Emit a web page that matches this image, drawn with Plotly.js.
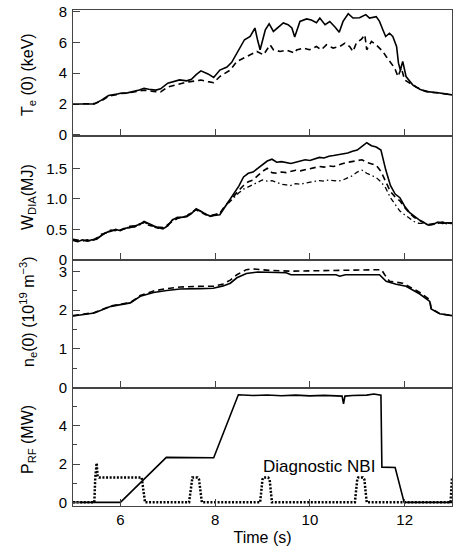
<!DOCTYPE html>
<html><head><meta charset="utf-8">
<script src="https://cdn.plot.ly/plotly-3.0.1.min.js"></script>
<style>html,body{margin:0;padding:0;background:#fff}#chart{width:455px;height:546px}</style>
</head><body><div id="chart"></div>
<script>
// Panel 1: central electron temperature Te(0) (keV)
const tTeSolid = [5.0,5.2,5.45,5.6,5.75,5.9,6.0,6.15,6.3,6.4,6.5,6.6,6.75,6.85,7.0,7.1,7.25,7.4,7.5,7.6,7.7,7.85,7.97,8.1,8.25,8.35,8.46,8.55,8.62,8.74,8.84,8.9,8.95,9.06,9.14,9.23,9.35,9.44,9.54,9.62,9.68,9.79,9.93,10.03,10.14,10.21,10.32,10.42,10.53,10.62,10.7,10.81,10.91,11.05,11.18,11.26,11.4,11.47,11.54,11.6,11.68,11.75,11.83,11.87,11.91,11.96,12.03,12.17,12.32,12.46,12.67,12.88,13.0];
const teSolid = [2.0,2.02,2.0,2.25,2.55,2.62,2.7,2.72,2.8,2.9,3.02,2.95,2.9,2.98,3.35,3.45,3.56,3.5,3.6,3.9,4.15,3.95,3.72,4.2,4.4,4.7,5.3,5.8,6.17,6.38,6.93,6.1,5.52,6.82,7.21,6.71,7.0,7.26,7.15,6.93,6.35,7.36,7.52,7.45,7.28,7.58,7.15,7.35,7.0,6.65,7.36,7.86,7.58,7.6,7.8,7.58,7.67,7.36,6.82,6.38,6.59,6.38,5.73,4.65,4.2,4.76,3.78,3.24,2.96,2.8,2.74,2.63,2.59];
const tTeDash = [5.0,5.2,5.45,5.6,5.75,5.9,6.0,6.15,6.3,6.5,6.7,6.85,7.0,7.25,7.4,7.6,7.7,7.85,7.97,8.1,8.32,8.46,8.6,8.74,8.88,9.02,9.16,9.23,9.37,9.51,9.68,9.72,9.86,9.99,10.14,10.24,10.35,10.49,10.63,10.74,10.84,10.91,10.98,11.09,11.16,11.2,11.3,11.4,11.54,11.61,11.72,11.79,11.86,11.93,12.0,12.1,12.25,12.39,12.55,12.75,12.9,13.0];
const teDash = [2.0,2.0,2.02,2.2,2.5,2.6,2.68,2.7,2.78,2.9,2.82,2.78,3.1,3.3,3.42,3.5,3.55,3.45,3.38,3.78,4.2,4.76,4.98,5.19,5.41,5.19,5.84,5.52,5.41,5.5,5.3,5.5,5.63,5.52,5.73,5.52,5.84,5.63,5.73,5.95,5.73,5.41,5.95,6.21,6.49,5.52,6.06,5.84,5.41,5.08,4.65,4.33,3.78,4.33,3.56,3.35,3.09,2.89,2.76,2.7,2.63,2.6];

// Panel 2: diamagnetic stored energy W_DIA (MJ)
const tW = [5.0,5.1,5.2,5.3,5.4,5.5,5.6,5.7,5.8,5.9,6.0,6.1,6.2,6.3,6.4,6.5,6.6,6.7,6.8,6.9,7.0,7.1,7.2,7.3,7.4,7.5,7.6,7.7,7.8,7.9,8.0,8.1,8.2,8.3,8.4,8.5,8.6,8.7,8.8,8.9,9.0,9.1,9.2,9.3,9.4,9.5,9.6,9.7,9.8,9.9,10.0,10.1,10.2,10.3,10.4,10.5,10.6,10.7,10.8,10.9,11.0,11.1,11.2,11.3,11.4,11.5,11.6,11.7,11.8,11.9,12.0,12.1,12.2,12.3,12.4,12.5,12.6,12.7,12.8,12.9,13.0];
const wSolid = [0.32,0.30,0.33,0.31,0.33,0.34,0.40,0.45,0.47,0.50,0.48,0.52,0.53,0.55,0.58,0.63,0.59,0.56,0.53,0.51,0.56,0.66,0.69,0.70,0.71,0.76,0.84,0.80,0.75,0.72,0.73,0.74,0.86,0.98,1.10,1.21,1.36,1.42,1.44,1.50,1.55,1.62,1.65,1.60,1.61,1.59,1.58,1.60,1.62,1.64,1.63,1.66,1.68,1.67,1.70,1.71,1.72,1.73,1.75,1.78,1.80,1.86,1.92,1.87,1.85,1.80,1.48,1.22,1.08,1.02,0.88,0.78,0.72,0.66,0.62,0.57,0.58,0.62,0.60,0.61,0.60];
const wDash = [0.34,0.32,0.31,0.33,0.32,0.36,0.42,0.44,0.49,0.48,0.50,0.51,0.55,0.56,0.59,0.61,0.57,0.55,0.54,0.53,0.58,0.64,0.68,0.71,0.72,0.78,0.82,0.78,0.74,0.73,0.75,0.76,0.88,0.96,1.05,1.14,1.22,1.28,1.31,1.38,1.45,1.50,1.43,1.42,1.44,1.43,1.45,1.47,1.46,1.48,1.50,1.52,1.53,1.52,1.54,1.53,1.56,1.58,1.60,1.61,1.63,1.64,1.60,1.58,1.55,1.45,1.28,1.12,1.03,0.97,0.86,0.77,0.70,0.65,0.61,0.58,0.59,0.61,0.62,0.60,0.61];
const wDashDot = [0.33,0.31,0.32,0.32,0.31,0.35,0.41,0.46,0.48,0.49,0.49,0.53,0.54,0.54,0.57,0.62,0.58,0.54,0.52,0.52,0.57,0.65,0.70,0.69,0.72,0.77,0.83,0.79,0.76,0.71,0.74,0.77,0.87,0.95,1.03,1.10,1.16,1.20,1.24,1.28,1.31,1.29,1.30,1.27,1.24,1.23,1.22,1.25,1.24,1.26,1.27,1.29,1.30,1.29,1.31,1.30,1.29,1.31,1.34,1.38,1.44,1.47,1.42,1.39,1.35,1.28,1.18,1.02,0.90,0.80,0.74,0.68,0.63,0.60,0.60,0.57,0.59,0.60,0.61,0.59,0.60];

// Panel 3: central electron density ne(0) (10^19 m^-3)
const tNeSolid = [5.0,5.45,5.8,6.07,6.21,6.42,6.7,6.98,7.26,7.68,7.96,8.17,8.32,8.46,8.66,8.9,9.16,9.5,9.6,10.2,10.55,10.63,10.75,11.47,11.53,11.61,11.82,12.03,12.32,12.53,12.56,12.74,13.0];
const neSolid = [1.85,1.93,2.1,2.15,2.19,2.36,2.46,2.51,2.55,2.56,2.57,2.63,2.7,2.84,2.95,2.99,2.98,2.97,2.92,2.92,2.92,2.88,2.92,2.92,2.84,2.75,2.67,2.62,2.42,2.23,2.03,1.91,1.86];
const tNeDash = [5.0,5.45,5.8,6.07,6.21,6.42,6.7,6.98,7.26,7.68,7.96,8.17,8.32,8.46,8.66,8.8,9.16,9.6,10.5,11.0,11.51,11.58,11.68,11.96,12.32,12.53,12.56,12.74,13.0];
const neDash = [1.86,1.94,2.11,2.16,2.2,2.38,2.5,2.56,2.6,2.62,2.62,2.68,2.78,2.92,3.05,3.07,3.03,3.01,3.02,3.04,3.05,2.92,2.75,2.7,2.46,2.27,2.05,1.91,1.86];

// Panel 4: RF power P_RF (MW) and diagnostic NBI (dotted)
const tRF = [5.0,6.0,6.97,7.5,7.97,8.49,8.8,9.1,9.4,9.7,10.0,10.3,10.6,10.68,10.71,10.74,10.9,11.2,11.35,11.47,11.5,11.52,11.65,11.8,11.99,13.0];
const pRF = [0,0,2.35,2.36,2.33,5.62,5.58,5.61,5.57,5.60,5.56,5.59,5.57,5.55,5.15,5.55,5.58,5.60,5.66,5.60,5.60,1.84,1.82,1.82,0,0];
const tNBI = [5.0,5.45,5.47,5.5,5.52,5.55,6.45,6.52,7.45,7.5,7.52,7.63,7.66,7.72,8.95,9.0,9.02,9.12,9.15,9.2,10.95,11.0,11.02,11.12,11.15,11.2,12.97,13.0];
const pNBI = [0,0,1.3,2.05,1.35,1.3,1.3,0,0,1.2,1.3,1.3,1.2,0,0,1.2,1.3,1.3,1.2,0,0,1.2,1.3,1.3,1.2,0,0,1.3];

const xTicks = [6,8,10,12];
const panelTitles = ['T<sub>e</sub> (0) (keV)','W<sub>DIA</sub>(MJ)','n<sub>e</sub>(0) (10<sup>19</sup> m<sup>−3</sup>)','P<sub>RF</sub> (MW)'];
const xTitle = 'Time (s)';
const nbiLabel = 'Diagnostic NBI';

const F = 'Liberation Sans, Arial, Helvetica, sans-serif';
const lw = 1.6;
const traces = [
  {x:tTeSolid, y:teSolid, xaxis:'x', yaxis:'y', mode:'lines', line:{color:'#000', width:lw}},
  {x:tTeDash, y:teDash, xaxis:'x', yaxis:'y', mode:'lines', line:{color:'#000', width:lw, dash:'6px,4px'}},
  {x:tW, y:wSolid, xaxis:'x2', yaxis:'y2', mode:'lines', line:{color:'#000', width:lw}},
  {x:tW, y:wDash, xaxis:'x2', yaxis:'y2', mode:'lines', line:{color:'#000', width:lw, dash:'6px,4px'}},
  {x:tW, y:wDashDot, xaxis:'x2', yaxis:'y2', mode:'lines', line:{color:'#000', width:1.3, dash:'5px,3px,1.5px,3px'}},
  {x:tNeSolid, y:neSolid, xaxis:'x3', yaxis:'y3', mode:'lines', line:{color:'#000', width:lw}},
  {x:tNeDash, y:neDash, xaxis:'x3', yaxis:'y3', mode:'lines', line:{color:'#000', width:lw, dash:'6px,4px'}},
  {x:tRF, y:pRF, xaxis:'x4', yaxis:'y4', mode:'lines', line:{color:'#000', width:lw}},
  {x:tNBI, y:pNBI, xaxis:'x4', yaxis:'y4', mode:'lines', line:{color:'#000', width:2.5, dash:'2px,1.6px'}}
];

const H = 496;
const py = p => (506 - p) / H; // page y -> paper y
const doms = [[py(136),1],[py(260),py(136)],[py(387.5),py(260)],[0,py(387.5)]];

function xax(i, show){
  return {domain:[0,1], anchor:'y'+(i===1?'':i), range:[5,13], tickvals:xTicks, ticks:'inside', ticklen:7, tickwidth:1,
    showticklabels:show, showline:true, mirror:true, linewidth:1, linecolor:'#444', showgrid:false, zeroline:false,
    tickfont:{family:F, size:15, color:'#000'},
    title: show ? {text:xTitle, font:{family:F, size:16, color:'#000'}, standoff:4} : undefined};
}
function yax(i, range, tv, tt, minor){
  const a = {domain:doms[i-1], anchor:'x'+(i===1?'':i), range:range, tickvals:tv, ticktext:tt, ticks:'inside', ticklen:7, tickwidth:1,
    showline:true, mirror:true, linewidth:1, linecolor:'#444', showgrid:false, zeroline:false,
    tickfont:{family:F, size:15, color:'#000'}, ticklabelstandoff:2};
  if (minor) a.minor = {tickvals:minor, ticks:'inside', ticklen:4, tickwidth:1, tickcolor:'#444', showgrid:false};
  return a;
}
const titleY = [75, 197, 312, 440];
const annotations = panelTitles.map((t,i)=>({text:t, xref:'paper', yref:'paper', x:(28-73)/379, y:py(titleY[i]),
  xanchor:'center', yanchor:'middle', textangle:-90, showarrow:false, font:{family:F, size:16, color:'#000'}}));
annotations.push({text:nbiLabel, xref:'x4', yref:'y4', x:10.2, y:1.86, showarrow:false, xanchor:'center', yanchor:'middle',
  font:{family:F, size:17, color:'#000'}});

const layout = {
  width:455, height:546, margin:{l:73, r:3, t:10, b:40}, showlegend:false,
  paper_bgcolor:'#fff', plot_bgcolor:'#fff', font:{family:F, color:'#000'},
  xaxis:xax(1,false), xaxis2:xax(2,false), xaxis3:xax(3,false), xaxis4:xax(4,true),
  yaxis:yax(1,[-0.08,8.1],[0,2,4,6,8],['0','2','4','6','8']),
  yaxis2:yax(2,[0,2.03],[0,0.5,1.0,1.5],['0','0.5','1.0','1.5']),
  yaxis3:yax(3,[0,3.3],[0,1,2,3],['0','1','2','3'],[0.5,1.5,2.5]),
  yaxis4:yax(4,[-0.19,6.0],[0,2,4],['0','2','4'],[1,3,5]),
  annotations:annotations
};
Plotly.newPlot('chart', traces, layout, {staticPlot:true, displayModeBar:false});
</script></body></html>
